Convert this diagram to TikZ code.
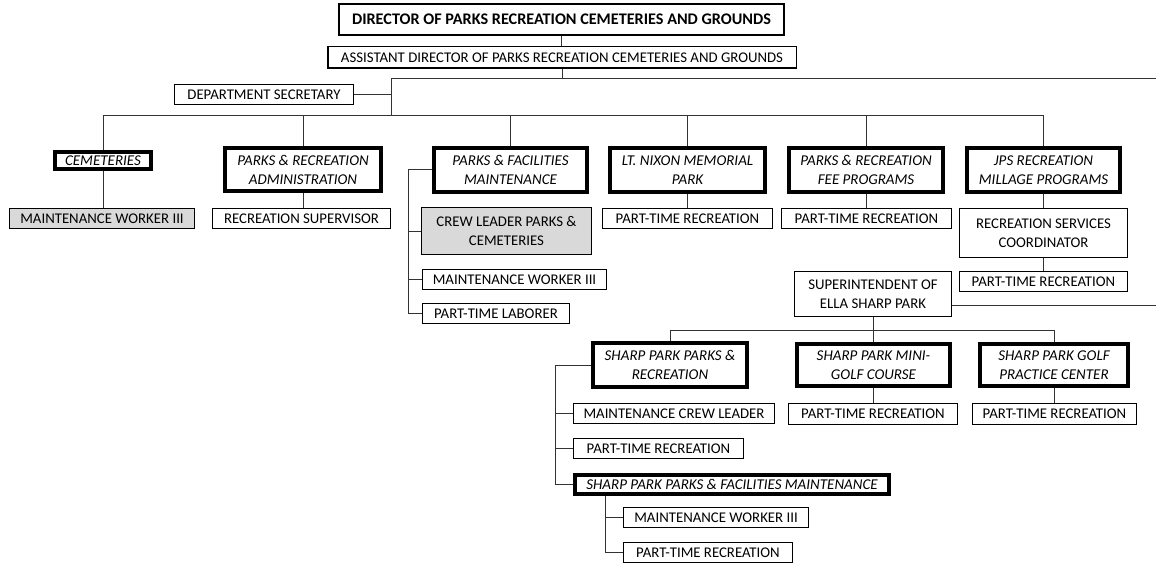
\documentclass[tikz,border=0pt]{standalone}
\usepackage{fontspec}
\setmainfont{Carlito}
\begin{document}
\begin{tikzpicture}[x=1pt,y=-1pt,
  font=\fontsize{14.8}{19}\selectfont,
  box/.style={draw=black, line width=1.3pt, inner sep=0pt, align=center, fill=white},
  unit/.style={box, line width=3.6pt, font=\fontsize{15}{19}\selectfont\itshape},
  shaded/.style={box, fill=black!15},
  link/.style={draw=black!80, line width=1pt},
]
\useasboundingbox (0,0) rectangle (1156,564);

% leadership
\node[box, line width=1.8pt, font=\fontsize{16.2}{19}\selectfont\bfseries,
      minimum width=445pt, minimum height=31pt] (dir) at (561.5,19.5)
      {DIRECTOR OF PARKS RECREATION CEMETERIES AND GROUNDS};
\node[box, line width=1.5pt, minimum width=468.5pt, minimum height=21.5pt] (asst) at (562,57.5)
      {ASSISTANT DIRECTOR OF PARKS RECREATION CEMETERIES AND GROUNDS};
\node[box, minimum width=178.7pt, minimum height=19.7pt] (sec) at (264,94.5) {DEPARTMENT SECRETARY};

% divisions
\node[unit, minimum width=96.4pt, minimum height=17.4pt] (cem) at (103,160.5) {CEMETERIES};
\node[shaded, minimum width=184.7pt, minimum height=19.7pt] (mw1) at (102,218.5) {MAINTENANCE WORKER III};

\node[unit, minimum width=156.4pt, minimum height=43.4pt] (pra) at (303,169.5) {PARKS \& RECREATION\\ADMINISTRATION};
\node[box, minimum width=177.7pt, minimum height=19.7pt] (rs) at (301.5,218.5) {RECREATION SUPERVISOR};

\node[unit, minimum width=153.4pt, minimum height=44.4pt] (pfm) at (510.5,170) {PARKS \& FACILITIES\\MAINTENANCE};
\node[shaded, minimum width=169.7pt, minimum height=46.7pt] (cl) at (506.5,231) {CREW LEADER PARKS \&\\CEMETERIES};
\node[box, minimum width=183.7pt, minimum height=19.7pt] (mw2) at (514.5,279.5) {MAINTENANCE WORKER III};
\node[box, minimum width=146.7pt, minimum height=19.7pt] (ptl) at (496,313.5) {PART-TIME LABORER};

\node[unit, minimum width=155.4pt, minimum height=44.4pt] (ltn) at (687.5,170) {LT. NIXON MEMORIAL\\PARK};
\node[box, minimum width=169.7pt, minimum height=19.7pt] (pt1) at (687.5,218.5) {PART-TIME RECREATION};

\node[unit, minimum width=154.4pt, minimum height=44.4pt] (fee) at (866,170) {PARKS \& RECREATION\\FEE PROGRAMS};
\node[box, minimum width=169.7pt, minimum height=19.7pt] (pt2) at (866.5,218.5) {PART-TIME RECREATION};

\node[unit, minimum width=153.4pt, minimum height=44.4pt] (jps) at (1043.5,170) {JPS RECREATION\\MILLAGE PROGRAMS};
\node[box, minimum width=167.7pt, minimum height=48.7pt] (rsc) at (1043.5,233) {RECREATION SERVICES\\COORDINATOR};
\node[box, minimum width=167.7pt, minimum height=19.7pt] (pt3) at (1043.5,281.5) {PART-TIME RECREATION};

% Ella Sharp Park
\node[box, minimum width=156.7pt, minimum height=44.7pt] (sup) at (873,294) {SUPERINTENDENT OF\\ELLA SHARP PARK};

\node[unit, minimum width=154.4pt, minimum height=44.4pt] (sppr) at (670,365) {SHARP PARK PARKS \&\\RECREATION};
\node[unit, minimum width=153.4pt, minimum height=42.4pt] (mg) at (873.5,365) {SHARP PARK MINI-\\GOLF COURSE};
\node[unit, minimum width=148.4pt, minimum height=42.4pt] (gp) at (1054,365) {SHARP PARK GOLF\\PRACTICE CENTER};

\node[box, minimum width=200.7pt, minimum height=19.7pt] (mcl) at (674,413.5) {MAINTENANCE CREW LEADER};
\node[box, minimum width=168.7pt, minimum height=20.7pt] (pt4) at (873,414) {PART-TIME RECREATION};
\node[box, minimum width=163.7pt, minimum height=20.7pt] (pt5) at (1054.5,414) {PART-TIME RECREATION};
\node[box, minimum width=169.7pt, minimum height=19.7pt] (pt6) at (658.5,448.5) {PART-TIME RECREATION};
\node[unit, minimum width=314.4pt, minimum height=19.4pt] (sppfm) at (732,484.5) {SHARP PARK PARKS \& FACILITIES MAINTENANCE};
\node[box, minimum width=184.7pt, minimum height=19.7pt] (mw3) at (716,517.5) {MAINTENANCE WORKER III};
\node[box, minimum width=168.7pt, minimum height=19.7pt] (pt7) at (708,552.5) {PART-TIME RECREATION};

% bus lines and rails
\coordinate (topbus) at (391,79);
\coordinate (topbusend) at (1156,79);
\coordinate (midbus) at (391,116);
\coordinate (pfmrail) at (408,0);
\coordinate (supout) at (1156,305);
\coordinate (esbus) at (0,330);
\coordinate (spprrail) at (555,0);
\coordinate (sppfmrail) at (605,0);

% connectors
\draw[link] (dir.south) -- (dir.south |- asst.north);
\draw[link] (asst.south) -- (asst.south |- topbus);
\draw[link] (topbus) -- (topbusend);
\draw[link] (topbus) -- (midbus);
\draw[link] (sec.east) -- (sec.east -| topbus);
\draw[link] (cem.north |- midbus) -- (jps.north |- midbus);
\foreach \n in {cem,pra,pfm,ltn,fee,jps}
  \draw[link] (\n.north) -- (\n.north |- midbus);
\draw[link] (cem.south) -- (cem.south |- mw1.north);
\draw[link] (pra.south) -- (pra.south |- rs.north);
\draw[link] (ltn.south) -- (ltn.south |- pt1.north);
\draw[link] (fee.south) -- (fee.south |- pt2.north);
\draw[link] (jps.south) -- (jps.south |- rsc.north);
\draw[link] (rsc.south) -- (rsc.south |- pt3.north);

\draw[link] (pfm.west) -- (pfm.west -| pfmrail) |- (ptl.west);
\foreach \n in {cl,mw2}
  \draw[link] (\n.west) -- (\n.west -| pfmrail);

\draw[link] (sup.east |- supout) -- (supout);
\draw[link] (sup.south) -- (sup.south |- esbus);
\draw[link] (sppr.north |- esbus) -- (gp.north |- esbus);
\foreach \n in {sppr,mg,gp}
  \draw[link] (\n.north) -- (\n.north |- esbus);
\draw[link] (mg.south) -- (mg.south |- pt4.north);
\draw[link] (gp.south) -- (gp.south |- pt5.north);

\draw[link] (sppr.west) -- (sppr.west -| spprrail) |- (sppfm.west);
\foreach \n in {mcl,pt6}
  \draw[link] (\n.west) -- (\n.west -| spprrail);
\draw[link] (sppfm.south -| sppfmrail) |- (pt7.west);
\draw[link] (mw3.west) -- (mw3.west -| sppfmrail);
\end{tikzpicture}
\end{document}
